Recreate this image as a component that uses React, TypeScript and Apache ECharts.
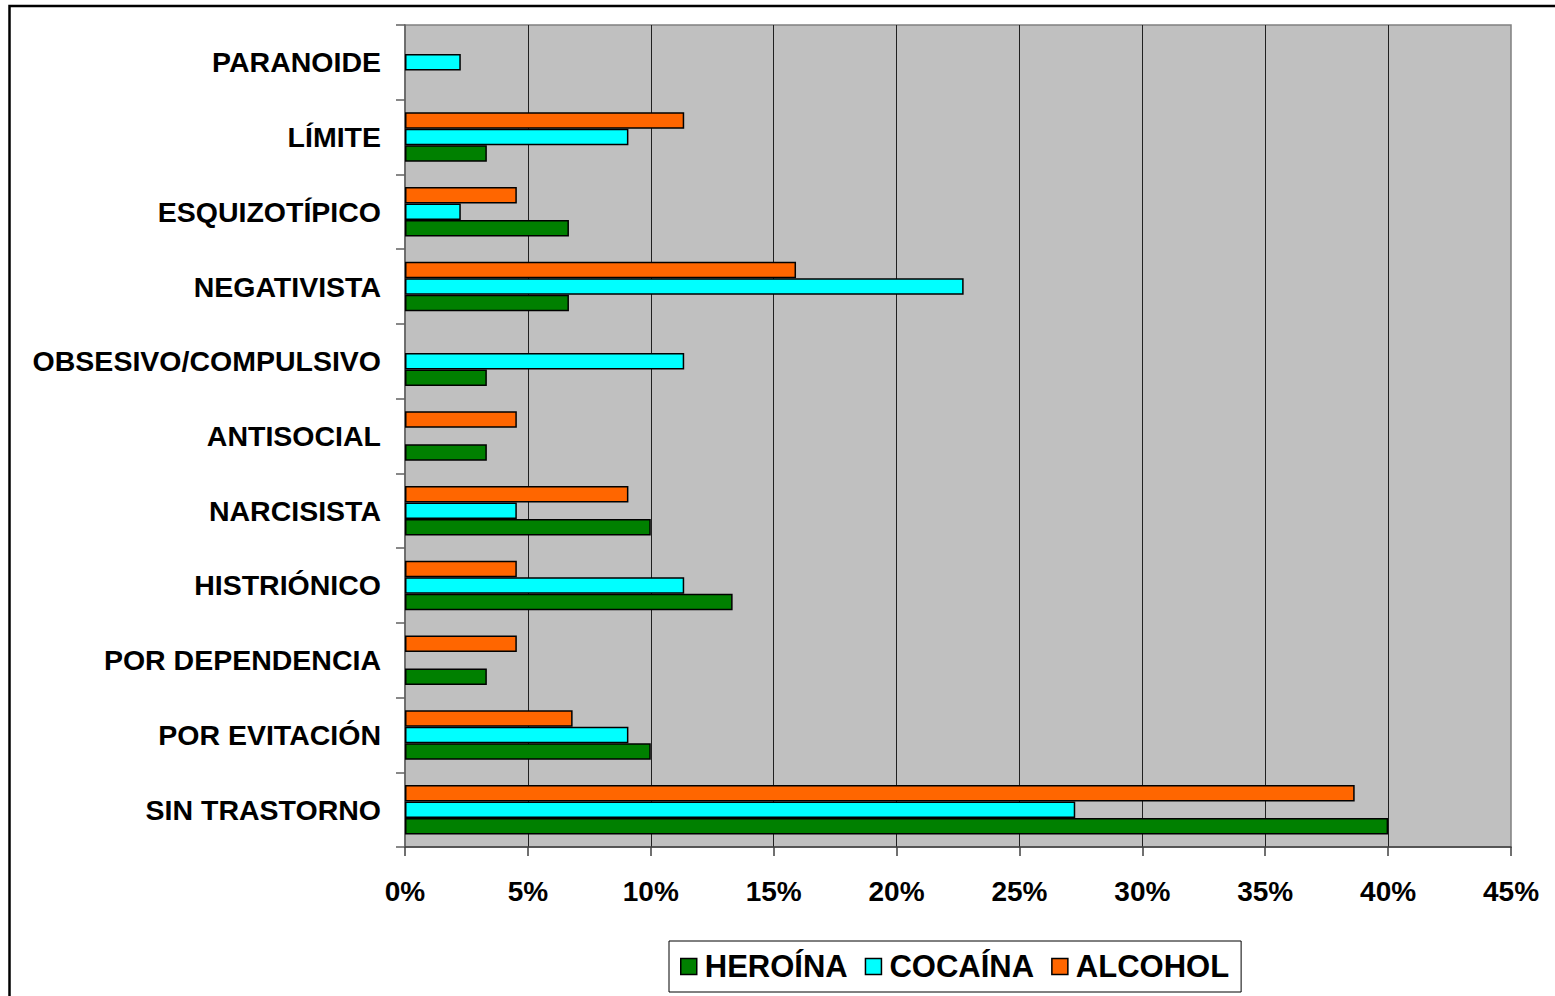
import React, { useEffect, useRef } from "react";
import * as echarts from "echarts";

// Categories listed top-to-bottom as in the chart
const categories = [
  "PARANOIDE",
  "LÍMITE",
  "ESQUIZOTÍPICO",
  "NEGATIVISTA",
  "OBSESIVO/COMPULSIVO",
  "ANTISOCIAL",
  "NARCISISTA",
  "HISTRIÓNICO",
  "POR DEPENDENCIA",
  "POR EVITACIÓN",
  "SIN TRASTORNO",
];

const heroina = [0, 3.33, 6.67, 6.67, 3.33, 3.33, 10, 13.33, 3.33, 10, 40];
const cocaina = [2.27, 9.09, 2.27, 22.73, 11.36, 0, 4.55, 11.36, 0, 9.09, 27.27];
const alcohol = [0, 11.36, 4.55, 15.91, 0, 4.55, 9.09, 4.55, 4.55, 6.82, 38.64];

const seriesNames = ["HEROÍNA", "COCAÍNA", "ALCOHOL"];
const seriesColors = ["#008000", "#00FFFF", "#FF6600"];

const xTicksMin = 0;
const xTicksMax = 45;
const xTicksStep = 5;

export default function App() {
  const ref = useRef<HTMLDivElement>(null);

  useEffect(() => {
    document.body.style.margin = "0";
    if (!ref.current) return;
    const chart = echarts.init(ref.current, null, { renderer: "svg" });
    const font = "'Liberation Sans', Arial, sans-serif";
    const rev = <T,>(a: T[]) => a.slice().reverse();
    const values = [heroina, cocaina, alcohol];

    // ECharts stacks horizontal bars top-down in series order, so the
    // series are added in reverse order (alcohol on top, heroína at bottom).
    const order = [2, 1, 0];

    chart.setOption({
      animation: false,
      backgroundColor: "#ffffff",
      textStyle: { fontFamily: font },
      graphic: [
        {
          type: "rect",
          shape: { x: 9.5, y: 6, width: 1700, height: 1200 },
          style: { fill: "none", stroke: "#000", lineWidth: 2.5 },
          silent: true,
          z: 100,
        },
      ],
      grid: {
        left: 405,
        right: 44,
        top: 25,
        bottom: 149,
        show: true,
        backgroundColor: "#C0C0C0",
        borderColor: "#808080",
        borderWidth: 1.5,
      },
      legend: {
        left: 669,
        top: 941,
        data: seriesNames,
        icon: "rect",
        itemWidth: 16,
        itemHeight: 16,
        itemGap: 17,
        padding: [10, 12, 10, 11],
        borderColor: "#000",
        borderWidth: 1,
        backgroundColor: "#fff",
        textStyle: {
          fontFamily: font,
          fontWeight: "bold",
          fontSize: 31,
          color: "#000",
          padding: [0, 0, 0, 3],
        },
        itemStyle: { borderColor: "#000", borderWidth: 1.5 },
      },
      xAxis: {
        type: "value",
        min: xTicksMin,
        max: xTicksMax,
        interval: xTicksStep,
        axisLine: { show: true, lineStyle: { color: "#404040", width: 1.5 } },
        axisTick: { show: true, length: 9, lineStyle: { color: "#404040", width: 1.5 } },
        axisLabel: {
          formatter: "{value}%",
          fontFamily: font,
          fontWeight: "bold",
          fontSize: 28,
          color: "#000",
          margin: 30,
        },
        splitLine: {
          show: true,
          showMinLine: false,
          showMaxLine: false,
          lineStyle: { color: "#202020", width: 1 },
        },
      },
      yAxis: {
        type: "category",
        data: rev(categories),
        axisLine: { show: true, lineStyle: { color: "#606060", width: 1.5 } },
        axisTick: { show: true, length: 9, lineStyle: { color: "#606060", width: 1.5 } },
        axisLabel: {
          fontFamily: font,
          fontWeight: "bold",
          fontSize: 28.5,
          color: "#000",
          margin: 24,
        },
        splitLine: { show: false },
      },
      series: order.map((i) => ({
        name: seriesNames[i],
        type: "bar",
        data: rev(values[i]).map((v) =>
          v === 0 ? { value: v, itemStyle: { borderWidth: 0 } } : v
        ),
        barWidth: 16.5,
        barGap: "0%",
        itemStyle: {
          color: seriesColors[i],
          borderColor: "#000",
          borderWidth: 1.5,
        },
      })),
    });

    return () => chart.dispose();
  }, []);

  return <div ref={ref} style={{ width: 1555, height: 996 }} />;
}
